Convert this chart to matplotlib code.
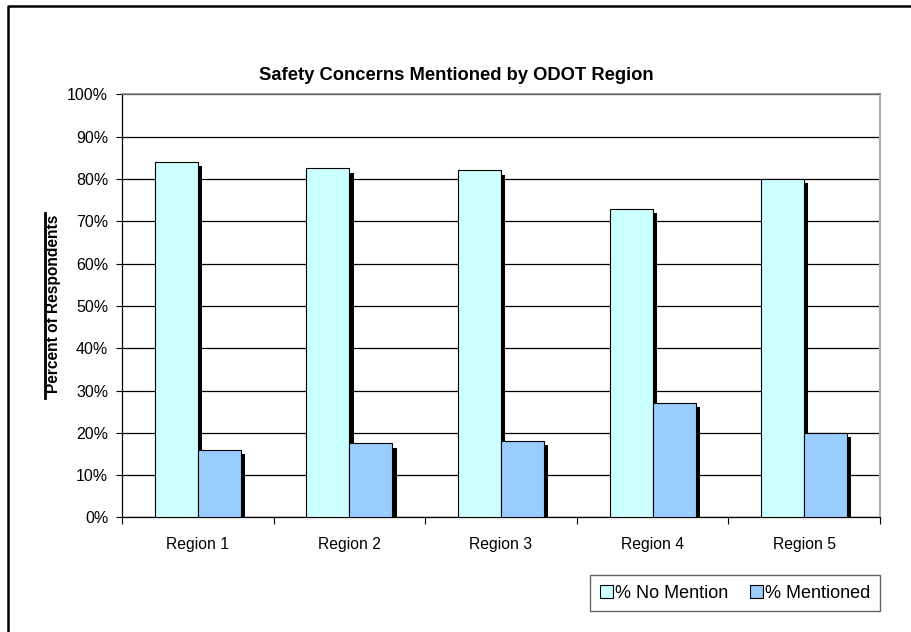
import numpy as np
import matplotlib
matplotlib.use("Agg")
import matplotlib.pyplot as plt
import matplotlib.patheffects as pe
from matplotlib.lines import Line2D

plt.rcParams['font.family'] = ['Liberation Sans', 'DejaVu Sans']

regions = ['Region 1', 'Region 2', 'Region 3', 'Region 4', 'Region 5']
no_mention = [84, 82.5, 82, 73, 80]
mentioned = [16, 17.5, 18, 27, 20]
series_names = ['% No Mention', '% Mentioned']
colors = ['#CCFFFF', '#99CCFF']

fig = plt.figure(figsize=(9.12, 6.32), dpi=100)
ax = fig.add_axes([0.1338, 0.1812, 0.8311, 0.6696])

x = np.arange(len(regions))
w = 0.284
shadow = [pe.SimplePatchShadow(offset=(3, -3), shadow_rgbFace='k', alpha=1), pe.Normal()]
b1 = ax.bar(x - w / 2, no_mention, w, color=colors[0], edgecolor='black', linewidth=0.8,
            zorder=3, label=series_names[0])
b2 = ax.bar(x + w / 2, mentioned, w, color=colors[1], edgecolor='black', linewidth=0.8,
            zorder=3, label=series_names[1])
for b in list(b1) + list(b2):
    b.set_path_effects(shadow)

ax.set_xlim(-0.5, len(regions) - 0.5)
ax.set_ylim(0, 100)
ax.set_yticks(np.arange(0, 101, 10))
ax.set_yticklabels([f'{v}%' for v in range(0, 101, 10)], fontsize=11.5)
ax.set_xticks(x)
ax.set_xticklabels(regions, fontsize=11.3)
ax.tick_params(axis='x', length=0, pad=14)
ax.set_xticks(np.arange(-0.5, len(regions)), minor=True)
ax.tick_params(axis='x', which='minor', length=5, direction='out', width=0.8)
ax.tick_params(axis='y', length=4, width=0.8, pad=6)
ax.yaxis.grid(True, color='black', linewidth=0.9, zorder=0)
ax.set_axisbelow(True)
ax.spines['top'].set_color('#808080')
ax.spines['right'].set_color('#B0B0B0')
ax.spines['right'].set_linewidth(1.5)
ax.spines['top'].set_linewidth(1.2)
ax.spines['left'].set_linewidth(0.9)
ax.spines['bottom'].set_linewidth(0.9)

fig.text(0.5, 0.881, 'Safety Concerns Mentioned by ODOT Region', ha='center', va='center',
         fontsize=13.2, fontweight='bold')
fig.text(0.059, 0.52, 'Percent of Respondents', rotation=90, ha='center', va='center',
         fontsize=11.2, fontweight='bold')
fig.add_artist(Line2D([0.049, 0.049], [0.37, 0.663], color='black', linewidth=2))

# outer frame (left and top only visible)
fig.add_artist(Line2D([0.0085, 0.0085, 1.0], [0.0, 0.991, 0.991], color='black', linewidth=1.8))

leg = fig.legend(handles=[b1, b2], labels=series_names, loc='center',
                 bbox_to_anchor=(0.806, 0.0617), ncol=2, fontsize=13,
                 frameon=True, fancybox=False, handlelength=0.75, handleheight=0.75,
                 handletextpad=0.1, columnspacing=1.2, borderpad=0.55)
leg.get_frame().set_edgecolor('#404040')
leg.get_frame().set_linewidth(1.0)
for h in leg.legend_handles:
    h.set_path_effects([])

fig.savefig('out.png', dpi=100)
